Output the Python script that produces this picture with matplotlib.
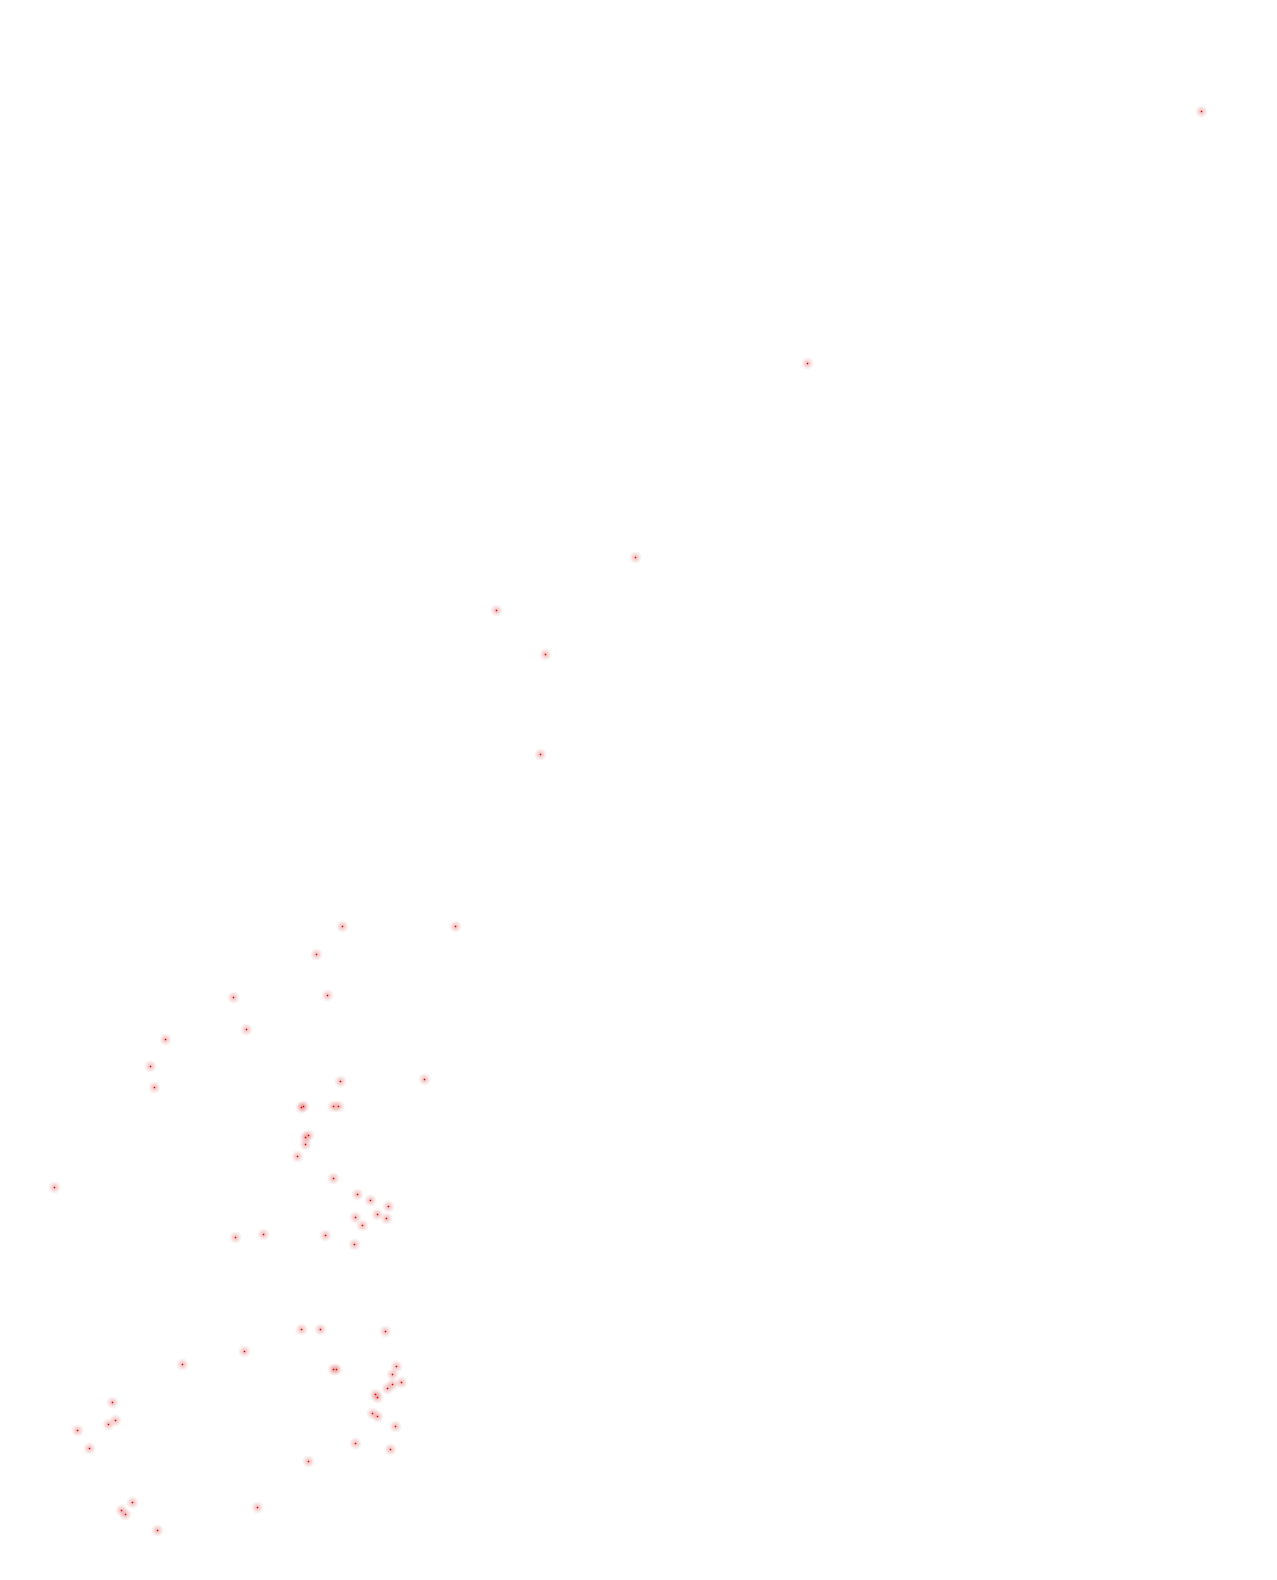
import matplotlib
matplotlib.use('Agg')
import matplotlib.pyplot as plt
import numpy as np

# point positions (canvas units, y grows downward)
x_values = [1201, 807, 635, 496, 545, 540,
            342, 455, 316, 233, 327, 246, 165, 150, 154, 340, 424,
            301, 303, 333, 338, 308, 305, 305, 297,
            54, 333, 357, 370, 388, 377, 355, 386, 362, 235, 263, 325, 354,
            301, 320, 385, 244, 182, 396, 333, 336, 392, 401, 392, 387,
            375, 377, 372, 377, 395, 355, 390, 308,
            112, 115, 108, 77, 89, 132, 121, 125, 257, 157]
y_values = [111, 363, 557, 610, 654, 754,
            926, 926, 954, 997, 995, 1029, 1039, 1066, 1087, 1081, 1079,
            1107, 1106, 1106, 1106, 1135, 1137, 1144, 1156,
            1187, 1178, 1194, 1200, 1206, 1214, 1217, 1218, 1225, 1237, 1234, 1235, 1244,
            1329, 1329, 1331, 1351, 1364, 1366, 1369, 1369, 1374, 1382, 1384, 1388,
            1394, 1397, 1413, 1416, 1426, 1443, 1449, 1461,
            1402, 1420, 1424, 1430, 1448, 1502, 1510, 1514, 1507, 1530]

W, H = 1277, 1580
fig = plt.figure(figsize=(W / 100, H / 100), dpi=100)
ax = fig.add_axes([0, 0, 1, 1])
ax.set_xlim(0, W)
ax.set_ylim(H, 0)
ax.axis('off')

x = np.array(x_values)
y = np.array(y_values)
# soft pink halo built from a few transparent layers
for diam, a in [(12, 0.05), (10, 0.05), (8, 0.06), (6, 0.07), (4, 0.08)]:
    s = (diam * 72 / 100) ** 2
    ax.scatter(x, y, s=s, color='#d84040', alpha=a, linewidths=0)
ax.scatter(x, y, s=(1.6 * 72 / 100) ** 2, color='#dd0000', linewidths=0)

fig.savefig('out.png', dpi=100, facecolor='white')
